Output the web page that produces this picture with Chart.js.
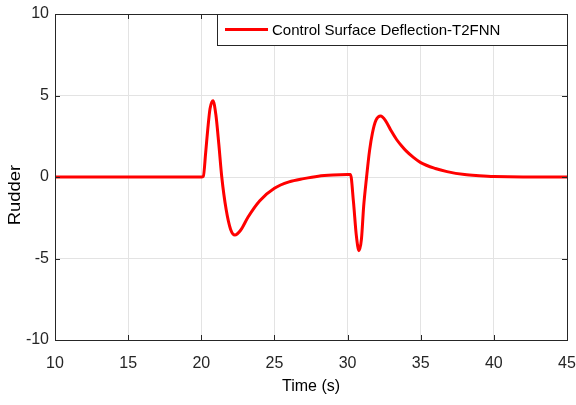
<!DOCTYPE html>
<html>
<head>
<meta charset="utf-8">
<script src="https://cdn.jsdelivr.net/npm/chart.js@4"></script>
<style>
  html, body { margin: 0; padding: 0; background: #fff; }
  #wrap { width: 576px; height: 405px; }
</style>
</head>
<body>
<div id="wrap"><canvas id="rudderChart"></canvas></div>
<script>
// rudder deflection (time in s, value)
const timeValues = [10, 15, 20, 20.14, 20.3, 20.45, 20.6, 20.8, 21.0, 21.2, 21.4, 21.7, 22.0, 22.3, 22.7, 23.2, 24, 25, 26, 27, 28, 29, 30, 30.2,
  30.4, 30.6, 30.78, 30.95, 31.1, 31.3, 31.5, 31.7, 31.95, 32.26, 32.6, 33, 33.35, 33.7, 34, 34.5, 35, 36, 36.8, 38, 39, 40, 42, 45];
const rudderValues = [0, 0, 0, 0.05, 1.5, 3.0, 4.2, 4.68, 3.8, 2.0, 0, -2.0, -3.2, -3.56, -3.25, -2.45, -1.45, -0.69, -0.3, -0.1, 0.05, 0.12, 0.15, 0.15,
  -1.5, -3.6, -4.52, -3.8, -1.8, 0, 1.6, 2.7, 3.5, 3.74, 3.45, 2.8, 2.3, 1.9, 1.6, 1.2, 0.88, 0.52, 0.33, 0.15, 0.08, 0.03, 0, 0];
const xTicks = [10, 15, 20, 25, 30, 35, 40, 45];
const yTicks = [-10, -5, 0, 5, 10];
const seriesLabel = 'Control Surface Deflection-T2FNN';
const yTitle = 'Rudder';

const FONT = '"Liberation Sans", Arial, Helvetica, sans-serif';
const AXIS = '#262626';

// box, inward ticks, y title and the legend inside the plot, matlab style
const frame = {
  id: 'frame',
  afterDraw(chart) {
    const { ctx, chartArea: a, scales } = chart;
    ctx.save();
    ctx.strokeStyle = AXIS;
    ctx.lineWidth = 1;
    ctx.beginPath();
    xTicks.forEach(t => {
      const x = Math.round(scales.x.getPixelForValue(t)) + 0.5;
      ctx.moveTo(x, a.bottom); ctx.lineTo(x, a.bottom - 5);
      ctx.moveTo(x, a.top); ctx.lineTo(x, a.top + 5);
    });
    yTicks.forEach(t => {
      const y = Math.round(scales.y.getPixelForValue(t)) + 0.5;
      ctx.moveTo(a.left, y); ctx.lineTo(a.left + 5, y);
      ctx.moveTo(a.right, y); ctx.lineTo(a.right - 5, y);
    });
    ctx.stroke();
    ctx.strokeRect(Math.round(a.left) + 0.5, Math.round(a.top) + 0.5, Math.round(a.right - a.left), Math.round(a.bottom - a.top));

    // y title, a bit lower than centre like the original
    ctx.save();
    ctx.translate(16, 195);
    ctx.rotate(-Math.PI / 2);
    ctx.scale(1.15, 1);
    ctx.fillStyle = '#000';
    ctx.font = '16px ' + FONT;
    ctx.textAlign = 'center';
    ctx.textBaseline = 'middle';
    ctx.fillText(yTitle, 0, 0);
    ctx.restore();

    // legend
    const ds = chart.data.datasets[0];
    const bx = 217.5, by = a.top + 0.5, bw = a.right - 217, bh = 31;
    ctx.fillStyle = '#fff';
    ctx.fillRect(bx, by, bw, bh);
    ctx.strokeStyle = AXIS;
    ctx.strokeRect(bx, by, bw, bh);
    ctx.strokeStyle = ds.borderColor;
    ctx.lineWidth = 3;
    ctx.beginPath();
    ctx.moveTo(225, by + 15); ctx.lineTo(268, by + 15);
    ctx.stroke();
    ctx.fillStyle = '#000';
    ctx.font = '15px ' + FONT;
    ctx.textBaseline = 'middle';
    ctx.fillText(ds.label, 272, by + 16);
    ctx.restore();
  }
};

new Chart(document.getElementById('rudderChart'), {
  type: 'line',
  data: {
    datasets: [{
      label: seriesLabel,
      data: timeValues.map((t, i) => ({ x: t, y: rudderValues[i] })),
      borderColor: '#ff0000',
      borderWidth: 3,
      pointRadius: 0,
      cubicInterpolationMode: 'monotone',
      fill: false
    }]
  },
  options: {
    responsive: true,
    maintainAspectRatio: false,
    animation: false,
    layout: { padding: { top: 14, right: 9, bottom: 9, left: 0 } },
    plugins: { legend: { display: false }, tooltip: { enabled: false } },
    scales: {
      x: {
        type: 'linear',
        min: 10, max: 45,
        afterBuildTicks: s => { s.ticks = xTicks.map(v => ({ value: v })); },
        afterFit: s => { s.height = 56; s.paddingLeft = 0; s.paddingRight = 0; },
        grid: { color: '#e3e3e3', drawTicks: false },
        border: { display: false },
        ticks: { color: AXIS, font: { family: FONT, size: 16 }, padding: 14, maxRotation: 0 },
        title: { display: true, text: 'Time (s)', color: '#000', font: { family: FONT, size: 16 }, padding: { top: 0, bottom: 0 } }
      },
      y: {
        min: -10, max: 10,
        afterBuildTicks: s => { s.ticks = yTicks.map(v => ({ value: v })); },
        afterFit: s => { s.width = 55; s.paddingTop = 0; s.paddingBottom = 0; },
        grid: { color: '#e3e3e3', drawTicks: false },
        border: { display: false },
        ticks: { color: AXIS, font: { family: FONT, size: 16 }, padding: 6 },
        title: { display: false }
      }
    }
  },
  plugins: [frame]
});
</script>
</body>
</html>
